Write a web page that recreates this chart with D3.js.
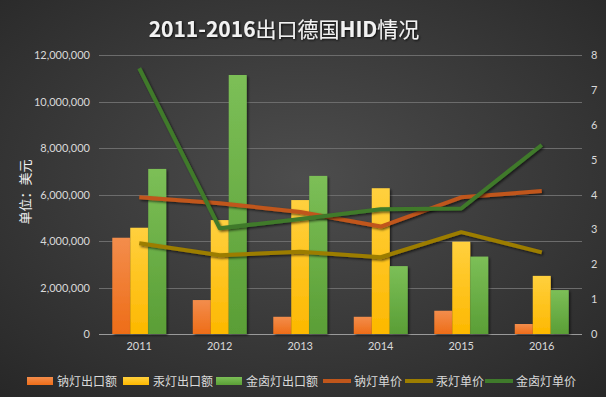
<!DOCTYPE html>
<html>
<head>
<meta charset="utf-8">
<script src="https://cdn.jsdelivr.net/npm/d3@7"></script>
<style>
  html, body { margin: 0; padding: 0; background: #2b2b2b; }
  svg { display: block; font-family: "Noto Sans CJK SC", "Noto Sans", sans-serif; }
</style>
</head>
<body>
<div id="chart"></div>
<script>
// categories and series
var years = ["2011", "2012", "2013", "2014", "2015", "2016"];
var barNames = ["钠灯出口额", "汞灯出口额", "金卤灯出口额"];
var lineNames = ["钠灯单价", "汞灯单价", "金卤灯单价"];

var sodiumExport = [4140000, 1460000, 740000, 740000, 1000000, 430000];
var mercuryExport = [4570000, 4900000, 5760000, 6270000, 3970000, 2500000];
var halideExport = [7100000, 11140000, 6800000, 2920000, 3330000, 1890000];

var sodiumPrice = [3.92, 3.75, 3.5, 3.08, 3.92, 4.1];
var mercuryPrice = [2.6, 2.26, 2.36, 2.2, 2.92, 2.34];
var halidePrice = [7.62, 3.03, 3.3, 3.58, 3.6, 5.42];

var leftTicks = [0, 2000000, 4000000, 6000000, 8000000, 10000000, 12000000];
var rightTicks = [0, 1, 2, 3, 4, 5, 6, 7, 8];

var barColors = [["#f38d4c", "#ee6d18"], ["#ffd03e", "#fdb800"], ["#7cbf57", "#5a9e36"]];
var lineColors = ["#c0561b", "#9c7d00", "#3f7a2b"];

var width = 606, height = 397;
var margin = { top: 55, right: 24, bottom: 63, left: 99 };

var svg = d3.select("#chart").append("svg")
    .attr("width", width)
    .attr("height", height);

var defs = svg.append("defs");

//background gradient
var bg = defs.append("radialGradient").attr("id", "bg")
    .attr("cx", "50%").attr("cy", "45%").attr("r", "75%");
bg.append("stop").attr("offset", "0%").attr("stop-color", "#4d4d4d");
bg.append("stop").attr("offset", "100%").attr("stop-color", "#272727");

barColors.forEach(function (c, i) {
    var g = defs.append("linearGradient").attr("id", "bar" + i)
        .attr("x1", 0).attr("y1", 0).attr("x2", 0).attr("y2", 1);
    g.append("stop").attr("offset", "0%").attr("stop-color", c[0]);
    g.append("stop").attr("offset", "100%").attr("stop-color", c[1]);
});

var shadow = defs.append("filter").attr("id", "shadow")
    .attr("x", "-20%").attr("y", "-20%").attr("width", "140%").attr("height", "140%");
shadow.append("feDropShadow").attr("dx", 1.5).attr("dy", 1.5)
    .attr("stdDeviation", 1.2).attr("flood-color", "#000").attr("flood-opacity", 0.6);

var tshadow = defs.append("filter").attr("id", "tshadow");
tshadow.append("feDropShadow").attr("dx", 1).attr("dy", 1)
    .attr("stdDeviation", 1).attr("flood-color", "#000").attr("flood-opacity", 0.8);

svg.append("rect").attr("width", width).attr("height", height).attr("fill", "url(#bg)");

//scales
var x0 = d3.scaleBand()
    .domain(years)
    .range([margin.left, width - margin.right])
    .paddingInner(0.33)
    .paddingOuter(0.165);

var x1 = d3.scaleBand()
    .domain([0, 1, 2])
    .range([0, x0.bandwidth()]);

var yLeft = d3.scaleLinear()
    .domain([0, 12000000])
    .range([height - margin.bottom, margin.top]);

var yRight = d3.scaleLinear()
    .domain([0, 8])
    .range([height - margin.bottom, margin.top]);

//gridlines
svg.append("g").selectAll("line")
    .data(leftTicks)
    .enter().append("line")
    .attr("x1", margin.left)
    .attr("x2", width - margin.right)
    .attr("y1", function (d) { return Math.round(yLeft(d)) + 0.5; })
    .attr("y2", function (d) { return Math.round(yLeft(d)) + 0.5; })
    .attr("stroke", function (d) { return d === 0 ? "#9a9a9a" : "#6c6c6c"; })
    .attr("stroke-width", 1);

//left axis
var leftAxis = svg.append("g")
    .attr("transform", "translate(" + (margin.left - 6) + ",0)")
    .call(d3.axisLeft(yLeft).tickValues(leftTicks).tickSize(0).tickFormat(d3.format(",")));
leftAxis.select(".domain").remove();
leftAxis.selectAll("text")
    .attr("fill", "#d9d9d9")
    .attr("font-size", "11px")
    .attr("font-family", "Lato, 'Open Sans', sans-serif");

//right axis
var rightAxis = svg.append("g")
    .attr("transform", "translate(" + (width - margin.right + 6) + ",0)")
    .call(d3.axisRight(yRight).tickValues(rightTicks).tickSize(0));
rightAxis.select(".domain").remove();
rightAxis.selectAll("text")
    .attr("fill", "#d9d9d9")
    .attr("font-size", "11px")
    .attr("font-family", "Lato, 'Open Sans', sans-serif");

//x axis
var xAxis = svg.append("g")
    .attr("transform", "translate(0," + (height - margin.bottom + 5) + ")")
    .call(d3.axisBottom(x0).tickSize(0));
xAxis.select(".domain").remove();
xAxis.selectAll("text")
    .attr("fill", "#d9d9d9")
    .attr("font-size", "11px")
    .attr("font-family", "Lato, 'Open Sans', sans-serif");

//bars
var barSeries = [sodiumExport, mercuryExport, halideExport];
var groups = svg.append("g").selectAll("g")
    .data(years)
    .enter().append("g")
    .attr("transform", function (d) { return "translate(" + x0(d) + ",0)"; });

groups.selectAll("rect")
    .data(function (d, i) { return barSeries.map(function (s, k) { return { k: k, v: s[i] }; }); })
    .enter().append("rect")
    .attr("x", function (d) { return x1(d.k); })
    .attr("width", x1.bandwidth())
    .attr("y", function (d) { return yLeft(d.v); })
    .attr("height", function (d) { return yLeft(0) - yLeft(d.v); })
    .attr("fill", function (d) { return "url(#bar" + d.k + ")"; })
    .attr("filter", "url(#shadow)");

//lines
var lineSeries = [sodiumPrice, mercuryPrice, halidePrice];
var line = d3.line()
    .x(function (d, i) { return x0(years[i]) + x0.bandwidth() / 2; })
    .y(function (d) { return yRight(d); });

svg.append("g").selectAll("path")
    .data(lineSeries)
    .enter().append("path")
    .attr("d", line)
    .attr("fill", "none")
    .attr("stroke", function (d, i) { return lineColors[i]; })
    .attr("stroke-width", 4)
    .attr("stroke-linejoin", "round")
    .attr("filter", "url(#shadow)");

//title: latin part bold, chinese part regular
var title = svg.append("text")
    .attr("x", 284)
    .attr("y", 37)
    .attr("text-anchor", "middle")
    .attr("font-size", "21px")
    .attr("fill", "#f2f2f2")
    .attr("filter", "url(#tshadow)");
[["2011-2016", "bold"], ["出口德国", "normal"], ["HID", "bold"], ["情况", "normal"]].forEach(function (p) {
    title.append("tspan").attr("font-weight", p[1]).text(p[0]);
});

//axis title
svg.append("text")
    .attr("transform", "translate(30,192) rotate(-90)")
    .attr("text-anchor", "middle")
    .attr("font-size", "13px")
    .attr("fill", "#f2f2f2")
    .text("单位：美元");

//legend
var legendData = [
    { name: barNames[0], type: "bar", k: 0, x: 27 },
    { name: barNames[1], type: "bar", k: 1, x: 123 },
    { name: barNames[2], type: "bar", k: 2, x: 216 },
    { name: lineNames[0], type: "line", k: 0, x: 323 },
    { name: lineNames[1], type: "line", k: 1, x: 405 },
    { name: lineNames[2], type: "line", k: 2, x: 485 }
];

var legend = svg.append("g").selectAll("g")
    .data(legendData)
    .enter().append("g")
    .attr("transform", function (d) { return "translate(" + d.x + ",381)"; });

legend.append("rect")
    .attr("x", 0)
    .attr("y", function (d) { return d.type === "bar" ? -4 : -2; })
    .attr("width", function (d) { return d.type === "bar" ? 26 : 28; })
    .attr("height", function (d) { return d.type === "bar" ? 8 : 4; })
    .attr("fill", function (d) { return d.type === "bar" ? "url(#bar" + d.k + ")" : lineColors[d.k]; });

legend.append("text")
    .attr("x", function (d) { return d.type === "bar" ? 30 : 31; })
    .attr("y", 4.5)
    .attr("font-size", "12px")
    .attr("fill", "#d9d9d9")
    .text(function (d) { return d.name; });
</script>
</body>
</html>
